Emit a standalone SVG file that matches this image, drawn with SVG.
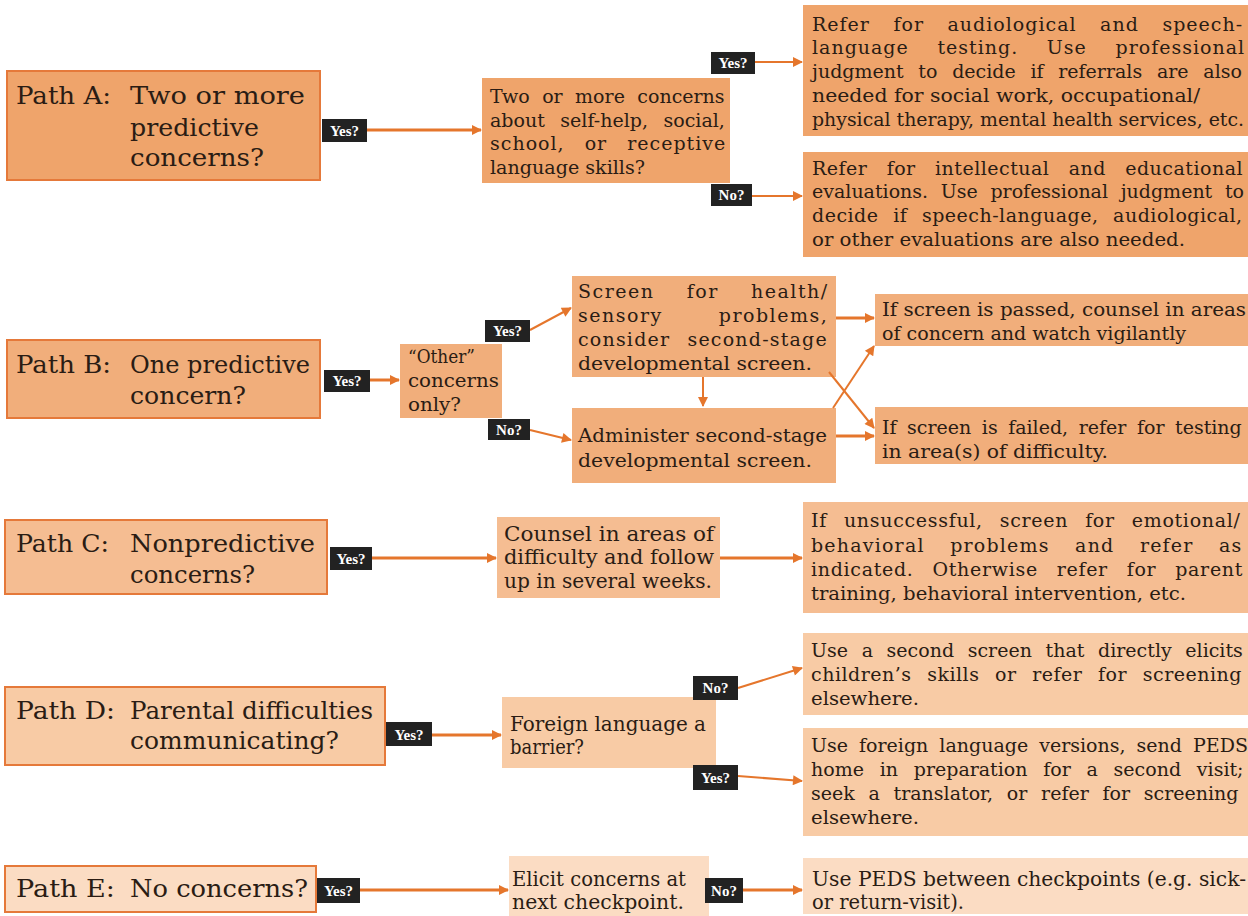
<svg xmlns="http://www.w3.org/2000/svg" width="1248" height="916" viewBox="0 0 1248 916">
<defs>
<marker id="ah" viewBox="0 0 10 10" refX="9" refY="5" markerWidth="12" markerHeight="10" markerUnits="userSpaceOnUse" orient="auto">
<path d="M0,0 L10,5 L0,10 Z" fill="#E5762C"/>
</marker>
<style>
text{font-family:"DejaVu Serif","Liberation Serif",serif;fill:#2a1c14}
.t{font-size:19px}
.w{font-size:20px}
.p{font-size:25px}
.lab{font-family:"Liberation Serif",serif;font-size:15px;font-weight:bold;fill:#fff}
.lb{fill:#222}
.path{stroke:#E5793A;stroke-width:2}
.a{fill:#EFA46B}.b{fill:#F1AE7B}.c{fill:#F5BD92}.d{fill:#F8CBA5}.e{fill:#FBDCC3}
.cn{stroke:#E5762C;fill:none;stroke-width:3;marker-end:url(#ah)}
.th{stroke-width:2}
</style>
</defs>
<rect width="1248" height="916" fill="#fff"/>

<g id="pathA">
<rect class="a path" x="7" y="71" width="313" height="109"/>
<text class="p" x="16" y="104" textLength="95" lengthAdjust="spacingAndGlyphs">Path A:</text>
<text class="p" x="130" y="104" textLength="175" lengthAdjust="spacingAndGlyphs">Two or more</text>
<text class="p" x="130" y="136" textLength="129" lengthAdjust="spacingAndGlyphs">predictive</text>
<text class="p" x="130" y="166" textLength="134" lengthAdjust="spacingAndGlyphs">concerns?</text>
</g>
<g id="a2">
<rect class="a" x="482" y="78" width="248" height="105"/>
<text class="t" x="490" y="103" word-spacing="6.4">Two or more concerns</text>
<text class="t" x="490" y="127" word-spacing="9.5">about self-help, social,</text>
<text class="t" x="490" y="150" word-spacing="13" letter-spacing="1">school, or receptive</text>
<text class="t" x="490" y="174" textLength="155" lengthAdjust="spacingAndGlyphs">language skills?</text>
</g>
<g id="a3">
<rect class="a" x="803" y="5" width="445" height="131"/>
<text class="t" x="812" y="31" word-spacing="16.5" letter-spacing="1">Refer for audiological and speech-</text>
<text class="t" x="812" y="54" word-spacing="21.6" letter-spacing="1">language testing. Use professional</text>
<text class="t" x="812" y="78" word-spacing="8.7">judgment to decide if referrals are also</text>
<text class="t" x="812" y="102" textLength="388" lengthAdjust="spacingAndGlyphs">needed for social work, occupational/</text>
<text class="t" x="812" y="126" textLength="432" lengthAdjust="spacingAndGlyphs">physical therapy, mental health services, etc.</text>
</g>
<g id="a4">
<rect class="a" x="803" y="152" width="445" height="105"/>
<text class="t" x="812" y="175" word-spacing="12.7" letter-spacing="0.5">Refer for intellectual and educational</text>
<text class="t" x="812" y="198" word-spacing="6.6">evaluations. Use professional judgment to</text>
<text class="t" x="812" y="222" word-spacing="8.1" letter-spacing="0.5">decide if speech-language, audiological,</text>
<text class="t" x="812" y="246" textLength="373" lengthAdjust="spacingAndGlyphs">or other evaluations are also needed.</text>
</g>

<g id="pathB">
<rect class="b path" x="7" y="340" width="313" height="78"/>
<text class="p" x="16" y="373" textLength="95" lengthAdjust="spacingAndGlyphs">Path B:</text>
<text class="p" x="130" y="373" textLength="180" lengthAdjust="spacingAndGlyphs">One predictive</text>
<text class="p" x="130" y="404" textLength="116" lengthAdjust="spacingAndGlyphs">concern?</text>
</g>
<g id="b2">
<rect class="b" x="400" y="344" width="102" height="74"/>
<text class="t" x="408" y="363" textLength="67" lengthAdjust="spacingAndGlyphs">“Other”</text>
<text class="t" x="408" y="387" textLength="91" lengthAdjust="spacingAndGlyphs">concerns</text>
<text class="t" x="408" y="411" textLength="53" lengthAdjust="spacingAndGlyphs">only?</text>
</g>
<g id="b3">
<rect class="b" x="572" y="276" width="264" height="101"/>
<text class="t" x="578" y="298" word-spacing="24.7" letter-spacing="1.5">Screen for health/</text>
<text class="t" x="578" y="322" word-spacing="48.5" letter-spacing="1.5">sensory problems,</text>
<text class="t" x="578" y="346" word-spacing="10" letter-spacing="1.2">consider second-stage</text>
<text class="t" x="578" y="370" textLength="234" lengthAdjust="spacingAndGlyphs">developmental screen.</text>
</g>
<g id="b4">
<rect class="b" x="572" y="408" width="264" height="75"/>
<text class="t" x="578" y="442" textLength="249" lengthAdjust="spacingAndGlyphs">Administer second-stage</text>
<text class="t" x="578" y="467" textLength="234" lengthAdjust="spacingAndGlyphs">developmental screen.</text>
</g>
<g id="b5">
<rect class="b" x="875" y="294" width="373" height="52"/>
<text class="t" x="882" y="316" textLength="364" lengthAdjust="spacingAndGlyphs">If screen is passed, counsel in areas</text>
<text class="t" x="882" y="340" textLength="304" lengthAdjust="spacingAndGlyphs">of concern and watch vigilantly</text>
</g>
<g id="b6">
<rect class="b" x="875" y="407" width="373" height="57"/>
<text class="t" x="882" y="434" word-spacing="4.5">If screen is failed, refer for testing</text>
<text class="t" x="882" y="458" textLength="226" lengthAdjust="spacingAndGlyphs">in area(s) of difficulty.</text>
</g>

<g id="pathC">
<rect class="c path" x="5" y="520" width="322" height="74"/>
<text class="p" x="16" y="552" textLength="93" lengthAdjust="spacingAndGlyphs">Path C:</text>
<text class="p" x="130" y="552" textLength="185" lengthAdjust="spacingAndGlyphs">Nonpredictive</text>
<text class="p" x="130" y="583" textLength="125" lengthAdjust="spacingAndGlyphs">concerns?</text>
</g>
<g id="c2">
<rect class="c" x="497" y="517" width="223" height="81"/>
<text class="w" x="504" y="541" textLength="210" lengthAdjust="spacingAndGlyphs">Counsel in areas of</text>
<text class="w" x="504" y="564" textLength="210" lengthAdjust="spacingAndGlyphs">difficulty and follow</text>
<text class="w" x="504" y="588" textLength="208" lengthAdjust="spacingAndGlyphs">up in several weeks.</text>
</g>
<g id="c3">
<rect class="c" x="803" y="502" width="445" height="111"/>
<text class="t" x="811" y="527" word-spacing="10.2" letter-spacing="0.7">If unsuccessful, screen for emotional/</text>
<text class="t" x="811" y="552" word-spacing="18.2" letter-spacing="1.2">behavioral problems and refer as</text>
<text class="t" x="811" y="576" word-spacing="12.1" letter-spacing="0.7">indicated. Otherwise refer for parent</text>
<text class="t" x="811" y="600" textLength="375" lengthAdjust="spacingAndGlyphs">training, behavioral intervention, etc.</text>
</g>

<g id="pathD">
<rect class="d path" x="5" y="687" width="380" height="78"/>
<text class="p" x="16" y="719" textLength="99" lengthAdjust="spacingAndGlyphs">Path D:</text>
<text class="p" x="130" y="719" textLength="243" lengthAdjust="spacingAndGlyphs">Parental difficulties</text>
<text class="p" x="130" y="749" textLength="209" lengthAdjust="spacingAndGlyphs">communicating?</text>
</g>
<g id="d2">
<rect class="d" x="502" y="697" width="214" height="71"/>
<text class="w" x="510" y="731" textLength="196" lengthAdjust="spacingAndGlyphs">Foreign language a</text>
<text class="w" x="510" y="754" textLength="74" lengthAdjust="spacingAndGlyphs">barrier?</text>
</g>
<g id="d3">
<rect class="d" x="803" y="633" width="445" height="82"/>
<text class="t" x="811" y="657" word-spacing="7.6">Use a second screen that directly elicits</text>
<text class="t" x="811" y="681" word-spacing="9.1" letter-spacing="0.5">children’s skills or refer for screening</text>
<text class="t" x="811" y="705" textLength="108" lengthAdjust="spacingAndGlyphs">elsewhere.</text>
</g>
<g id="d4">
<rect class="d" x="803" y="728" width="445" height="108"/>
<text class="t" x="811" y="752" word-spacing="5">Use foreign language versions, send PEDS</text>
<text class="t" x="811" y="776" word-spacing="9.7">home in preparation for a second visit;</text>
<text class="t" x="811" y="800" word-spacing="7.7">seek a translator, or refer for screening</text>
<text class="t" x="811" y="824" textLength="108" lengthAdjust="spacingAndGlyphs">elsewhere.</text>
</g>

<g id="pathE">
<rect class="e path" x="5" y="866" width="311" height="46"/>
<text class="p" x="16" y="897" textLength="99" lengthAdjust="spacingAndGlyphs">Path E:</text>
<text class="p" x="130" y="897" textLength="178" lengthAdjust="spacingAndGlyphs">No concerns?</text>
</g>
<g id="e2">
<rect class="e" x="509" y="856" width="200" height="60"/>
<text class="w" x="512" y="886" textLength="174" lengthAdjust="spacingAndGlyphs">Elicit concerns at</text>
<text class="w" x="512" y="909" textLength="172" lengthAdjust="spacingAndGlyphs">next checkpoint.</text>
</g>
<g id="e3">
<rect class="e" x="803" y="858" width="445" height="56"/>
<text class="w" x="812" y="886" textLength="434" lengthAdjust="spacingAndGlyphs">Use PEDS between checkpoints (e.g. sick-</text>
<text class="w" x="812" y="909" textLength="152" lengthAdjust="spacingAndGlyphs">or return-visit).</text>
</g>

<g id="connectors">
<path class="cn" d="M367,130 H481"/>
<path class="cn th" d="M755,62 H802"/>
<path class="cn th" d="M752,196 H802"/>
<path class="cn" d="M370,380 H399"/>
<path class="cn th" d="M530,330 L571,308"/>
<path class="cn th" d="M530,430 L571,440"/>
<path class="cn th" d="M703,377 V406"/>
<path class="cn" d="M836,318 H874"/>
<path class="cn" d="M836,436 H874"/>
<path class="cn th" d="M833,408 L874,346"/>
<path class="cn th" d="M829,372 L874,428"/>
<path class="cn" d="M372,558 H496"/>
<path class="cn" d="M720,558 H802"/>
<path class="cn" d="M432,735 H501"/>
<path class="cn th" d="M738,688 L802,668"/>
<path class="cn th" d="M738,776 L802,781"/>
<path class="cn" d="M360,890 H508"/>
<path class="cn" d="M743,890 H802"/>

<rect class="lb" x="322" y="119" width="45" height="23"/><text class="lab" x="344.5" y="136" text-anchor="middle">Yes?</text>
<rect class="lb" x="711" y="52" width="44" height="22"/><text class="lab" x="733" y="68" text-anchor="middle">Yes?</text>
<rect class="lb" x="711" y="184" width="41" height="22"/><text class="lab" x="731.5" y="200" text-anchor="middle">No?</text>
<rect class="lb" x="324" y="370" width="46" height="22"/><text class="lab" x="347" y="386" text-anchor="middle">Yes?</text>
<rect class="lb" x="485" y="320" width="45" height="22"/><text class="lab" x="507.5" y="336" text-anchor="middle">Yes?</text>
<rect class="lb" x="488" y="419" width="42" height="21"/><text class="lab" x="509" y="435" text-anchor="middle">No?</text>
<rect class="lb" x="330" y="547" width="42" height="23"/><text class="lab" x="351" y="564" text-anchor="middle">Yes?</text>
<rect class="lb" x="386" y="722" width="46" height="24"/><text class="lab" x="409" y="740" text-anchor="middle">Yes?</text>
<rect class="lb" x="693" y="676" width="45" height="24"/><text class="lab" x="715.5" y="693" text-anchor="middle">No?</text>
<rect class="lb" x="693" y="765" width="45" height="25"/><text class="lab" x="715.5" y="783" text-anchor="middle">Yes?</text>
<rect class="lb" x="317" y="878" width="43" height="25"/><text class="lab" x="338.5" y="896" text-anchor="middle">Yes?</text>
<rect class="lb" x="705" y="878" width="38" height="25"/><text class="lab" x="724" y="896" text-anchor="middle">No?</text>
</g>
</svg>
